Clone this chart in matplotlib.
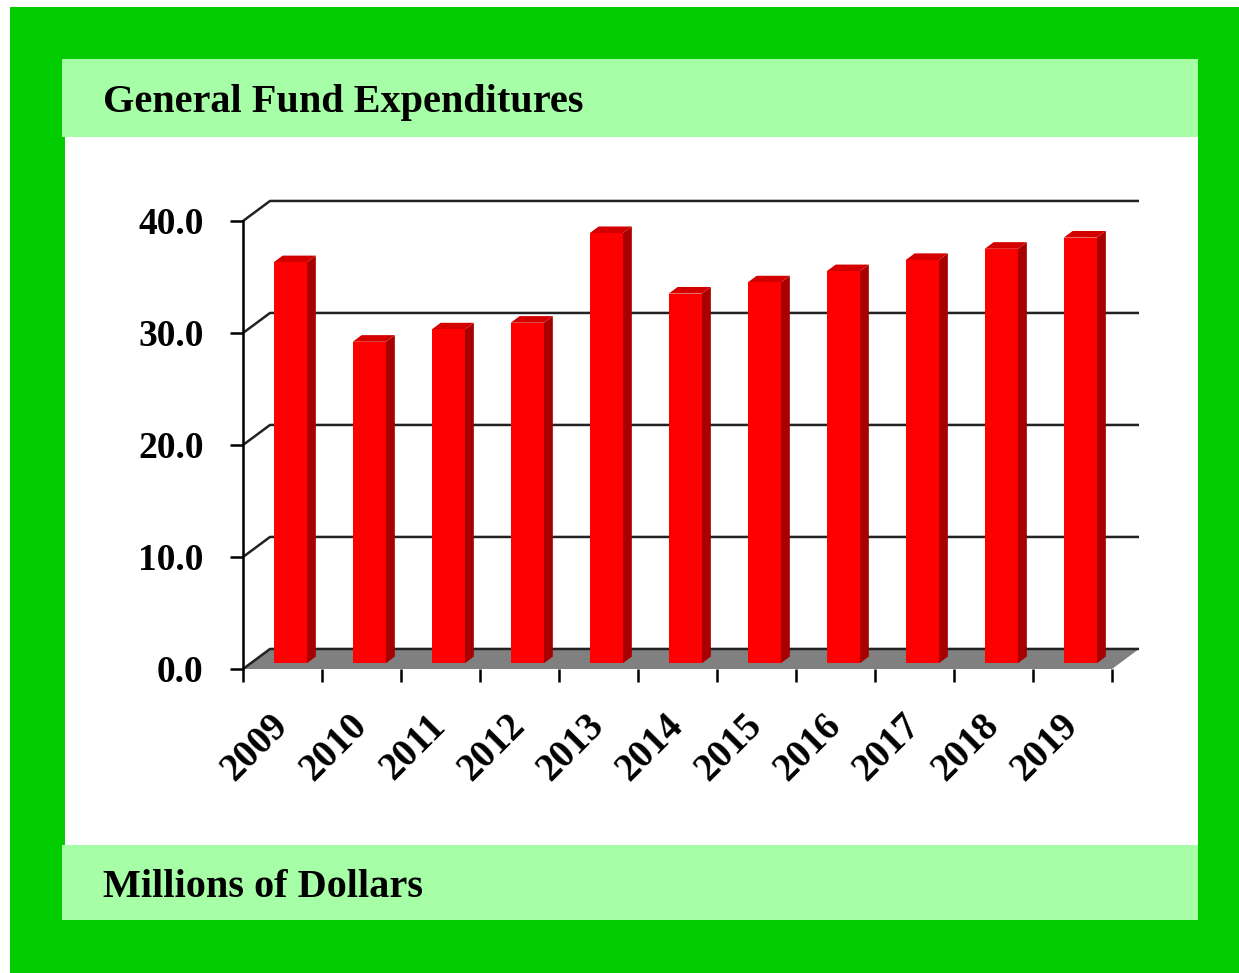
import matplotlib.pyplot as plt
from matplotlib.patches import Rectangle, Polygon

# General fund spending, millions of dollars
years = ["2009", "2010", "2011", "2012", "2013", "2014",
         "2015", "2016", "2017", "2018", "2019"]
expenditures = [35.8, 28.7, 29.8, 30.4, 38.4, 33.0, 34.0, 35.0, 36.0, 37.0, 38.0]
y_ticks = [0, 10, 20, 30, 40]

title_text = "General Fund Expenditures"
units_text = "Millions of Dollars"

W, H = 1239, 973
GREEN = "#00cc00"
LIGHT_GREEN = "#a6ffa6"
RED_FRONT = "#ff0000"
RED_SIDE = "#a80000"
RED_TOP = "#d40000"
FLOOR = "#808080"
SERIF = ["Liberation Serif", "DejaVu Serif"]

# fake 3d depth in data units (category units, value units)
DX, DY = 0.342, 1.79
BAR_W = 0.42
BAR_F0 = 0.29   # where the bar front sits inside the depth
BAR_FD = 0.33   # bar depth as a fraction of the full depth


def px_rect(x0, y0, x1, y1):
    # pixel box (top-left origin) -> figure fraction rectangle
    return (x0 / W, 1 - y1 / H, (x1 - x0) / W, (y1 - y0) / H)


fig = plt.figure(figsize=(W / 100, H / 100), dpi=100)
fig.patch.set_facecolor("white")

for (x0, y0, x1, y1), col in [((10, 7, W, H), GREEN),
                              ((62, 59, 1198, 137), LIGHT_GREEN),
                              ((65, 137, 1198, 845), "white"),
                              ((62, 845, 1198, 920), LIGHT_GREEN)]:
    l, b, w, h = px_rect(x0, y0, x1, y1)
    fig.patches.append(Rectangle((l, b), w, h, transform=fig.transFigure,
                                 facecolor=col, edgecolor="none", zorder=-10))

fig.text(103 / W, 1 - 112 / H, title_text, fontsize=29, fontweight="bold",
         family=SERIF, va="baseline", ha="left")
fig.text(103 / W, 1 - 897 / H, units_text, fontsize=29, fontweight="bold",
         family=SERIF, va="baseline", ha="left")

ax = fig.add_axes(px_rect(243, 221, 1112, 669))
ax.set_zorder(5)
ax.set_facecolor("none")
n = len(years)
ax.set_xlim(0, n)
ax.set_ylim(0, 40)

# floor
ax.add_patch(Polygon([(0, 0), (n, 0), (n + DX, DY), (DX, DY)], closed=True,
                     facecolor=FLOOR, edgecolor="none", clip_on=False, zorder=1))

# back wall gridlines with the slanted left-wall segment
for v in y_ticks:
    ax.plot([0, DX, n + DX], [v, v + DY, v + DY], color="#222222", lw=1.8,
            clip_on=False, zorder=2, solid_capstyle="butt")

# bars: front, side and top faces
for i, v in enumerate(expenditures):
    xl = i + 0.5 - BAR_W / 2 + DX * BAR_F0
    xr = xl + BAR_W
    y0 = DY * BAR_F0
    top = y0 + v
    ddx, ddy = DX * BAR_FD, DY * BAR_FD
    ax.add_patch(Polygon([(xr, y0), (xr + ddx, y0 + ddy), (xr + ddx, top + ddy), (xr, top)],
                         facecolor=RED_SIDE, edgecolor="none", clip_on=False, zorder=3))
    ax.add_patch(Polygon([(xl, top), (xr, top), (xr + ddx, top + ddy), (xl + ddx, top + ddy)],
                         facecolor=RED_TOP, edgecolor="none", clip_on=False, zorder=3))
    ax.add_patch(Rectangle((xl, y0), BAR_W, v, facecolor=RED_FRONT, edgecolor="none",
                           clip_on=False, zorder=4))

for side in ["top", "right", "bottom"]:
    ax.spines[side].set_visible(False)
ax.spines["left"].set_linewidth(1.8)
ax.spines["left"].set_color("black")
ax.spines["left"].set_zorder(5)

ax.set_yticks(y_ticks)
ax.set_yticklabels([f"{t:.1f}" for t in y_ticks], fontsize=27, fontweight="bold",
                   family=SERIF)
ax.tick_params(axis="y", direction="out", length=9.4, width=1.8, pad=19, color="black")

ax.set_xticks([i + 0.5 for i in range(n)])
ax.set_xticklabels(years, fontsize=28, fontweight="bold", family=SERIF)
ax.set_xticks(range(n + 1), minor=True)
ax.tick_params(axis="x", which="major", length=0, pad=37)
ax.tick_params(axis="x", which="minor", direction="out", length=9.4, width=1.8, color="black")
plt.setp(ax.get_xticklabels(), rotation=45, ha="right", va="center", rotation_mode="anchor")

fig.savefig("out.png", dpi=100)
